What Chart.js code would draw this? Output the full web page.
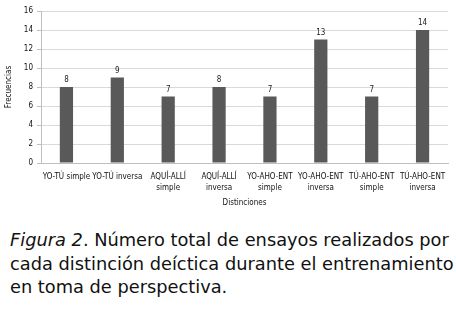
<!DOCTYPE html>
<html><head><meta charset="utf-8">
<script src="https://cdn.jsdelivr.net/npm/chart.js@4/dist/chart.umd.min.js"></script>
<style>
html,body{margin:0;padding:0;background:#fff;width:456px;height:310px;overflow:hidden}
#wrap{position:absolute;left:0;top:0;width:456px;height:212px}
#cap{position:absolute;left:10px;top:228px;width:446px;font-family:"DejaVu Sans",sans-serif;font-size:17.8px;line-height:23.5px;color:#111;white-space:nowrap}
#cap i{font-style:italic}
</style></head><body>
<div id="wrap"><canvas id="c" width="456" height="212"></canvas></div>
<div id="cap"><i>Figura 2</i>. Número total de ensayos realizados por<br>cada distinción deíctica durante el entrenamiento<br>en toma de perspectiva.</div>
<script>
const categories = [["YO-TÚ simple"],["YO-TÚ inversa"],["AQUÍ-ALLÍ","simple"],["AQUÍ-ALLÍ","inversa"],["YO-AHO-ENT","simple"],["YO-AHO-ENT","inversa"],["TÚ-AHO-ENT","simple"],["TÚ-AHO-ENT","inversa"]];
const values = [8,9,7,8,7,13,7,14];
const yTicks = [0,2,4,6,8,10,12,14,16];
const font = '"DejaVu Sans Condensed","Liberation Sans Narrow",sans-serif';
const labelPlugin = {
  id:'vals',
  afterDatasetsDraw(chart){
    const ctx = chart.ctx; const meta = chart.getDatasetMeta(0);
    ctx.save(); ctx.fillStyle='#222'; ctx.font='8px '+font; ctx.textAlign='center'; ctx.textBaseline='bottom';
    meta.data.forEach((b,i)=>ctx.fillText(values[i], b.x, b.y-3));
    ctx.restore();
  }
};
new Chart(document.getElementById('c'),{
  type:'bar',
  data:{labels:categories,datasets:[{data:values,backgroundColor:'#595959',barPercentage:0.52,categoryPercentage:0.5}]},
  options:{responsive:false,animation:false,devicePixelRatio:1,
    layout:{padding:{left:0,right:8,top:11,bottom:0}},
    plugins:{legend:{display:false},tooltip:{enabled:false}},
    scales:{
      x:{grid:{display:false},border:{color:'#bfbfbf'},
        ticks:{color:'#111',font:{family:font,size:8,lineHeight:1.35},maxRotation:0,autoSkip:false,padding:1},
        title:{display:true,text:'Distinciones',color:'#111',font:{family:font,size:8},padding:{top:4}},
        afterFit(s){s.height=49;}},
      y:{min:0,max:16,afterBuildTicks(s){s.ticks=yTicks.map(v=>({value:v}));},
        grid:{color:'#d9d9d9',drawTicks:true,tickLength:4,tickColor:'#bfbfbf'},border:{color:'#bfbfbf'},
        ticks:{color:'#111',font:{family:font,size:8},padding:4},
        title:{display:true,text:'Frecuencias',color:'#111',font:{family:font,size:8},padding:{bottom:4}},
        afterFit(s){s.width=41;}}
    }},
  plugins:[labelPlugin]
});
</script></body></html>
